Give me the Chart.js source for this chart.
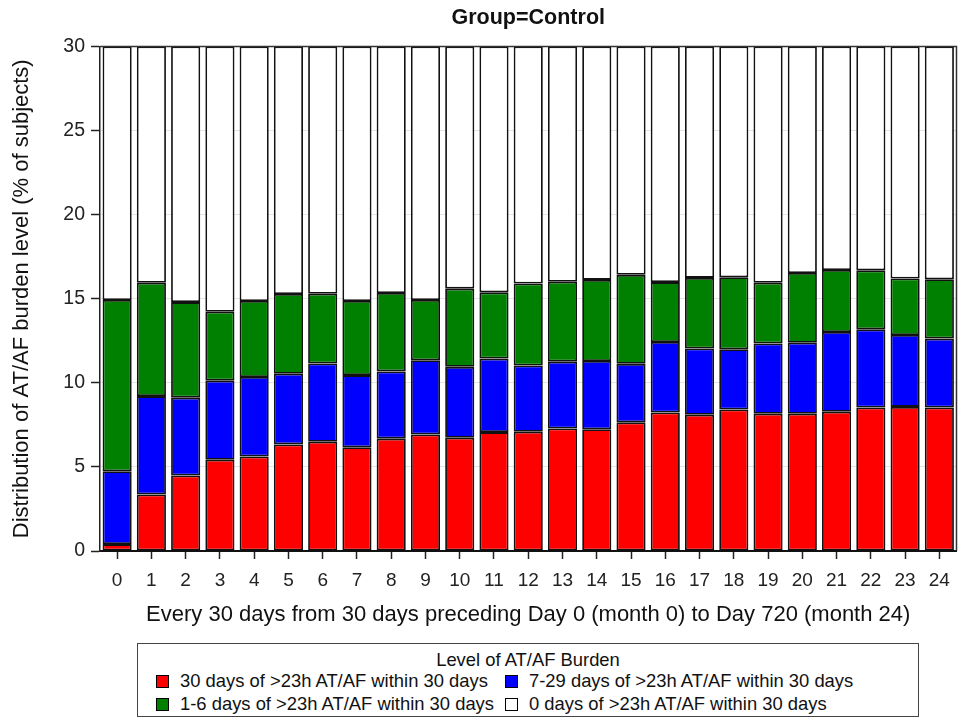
<!DOCTYPE html>
<html>
<head>
<meta charset="utf-8">
<script src="https://cdn.jsdelivr.net/npm/chart.js@4"></script>
<style>
  body { margin: 0; background: #fff; font-family: 'Liberation Sans', Arial, sans-serif; }
  .wrap { position: relative; width: 960px; height: 718px; }
  #chart { position: absolute; left: 0; top: 0; }
  .legend { position: absolute; left: 137px; top: 643px; width: 780px; height: 72px; border: 1px solid #444; color: #111; font-size: 18.4px; }
  .legend .ttl { position: absolute; left: 0; right: 0; top: 5px; text-align: center; }
  .legend .item { position: absolute; white-space: nowrap; line-height: 20px; }
  .legend .sw { display: inline-block; width: 11px; height: 11px; border: 1px solid #000; margin-right: 11px; vertical-align: -1px; }
</style>
</head>
<body>
<div class="wrap">
  <canvas id="chart" width="960" height="640"></canvas>
  <div class="legend" id="legend"><div class="ttl">Level of AT/AF Burden</div></div>
</div>
<script>
// month index (every 30 days)
let months = ['0','1','2','3','4','5','6','7','8','9','10','11','12','13','14','15','16','17','18','19','20','21','22','23','24'];

// % of subjects in each burden level
let days30 = [0.41, 3.36, 4.49, 5.43, 5.62, 6.34, 6.50, 6.17, 6.68, 6.93, 6.73, 7.07, 7.09, 7.28, 7.24, 7.65, 8.24, 8.10, 8.41, 8.16, 8.16, 8.28, 8.53, 8.57, 8.53];
let days7to29 = [4.33, 5.85, 4.63, 4.70, 4.73, 4.20, 4.65, 4.29, 4.00, 4.41, 4.22, 4.37, 3.94, 3.98, 4.06, 3.48, 4.19, 3.94, 3.59, 4.18, 4.22, 4.74, 4.65, 4.27, 4.10];
let days1to6 = [10.19, 6.74, 5.68, 4.10, 4.52, 4.74, 4.15, 4.41, 4.66, 3.59, 4.65, 3.94, 4.88, 4.75, 4.82, 5.29, 3.56, 4.20, 4.28, 3.61, 4.15, 3.69, 3.51, 3.36, 3.53];
let days0 = [15.07, 14.05, 15.20, 15.77, 15.13, 14.72, 14.70, 15.13, 14.66, 15.07, 14.40, 14.62, 14.09, 13.99, 13.88, 13.58, 14.01, 13.76, 13.72, 14.05, 13.47, 13.29, 13.31, 13.80, 13.84];

let yTicks = [0, 5, 10, 15, 20, 25, 30];

let font = "'Liberation Sans', Arial, sans-serif";

function bar(label, color, data) {
    return {
        label: label,
        data: data,
        backgroundColor: color,
        borderColor: '#111',
        borderWidth: 1.8,
        borderSkipped: false,
        barPercentage: 0.85,
        categoryPercentage: 1
    };
}

let burdenData = {
    labels: months,
    datasets: [
        bar('30 days of >23h AT/AF within 30 days', '#ff0000', days30),
        bar('7-29 days of >23h AT/AF within 30 days', '#0000ff', days7to29),
        bar('1-6 days of >23h AT/AF within 30 days', '#008000', days1to6),
        bar('0 days of >23h AT/AF within 30 days', '#ffffff', days0)
    ]
};

// top and right edge of the plot box
let frame = {
    id: 'frame',
    afterDatasetsDraw(chart) {
        let ctx = chart.ctx, a = chart.chartArea;
        ctx.save();
        ctx.strokeStyle = '#333';
        ctx.lineWidth = 1.5;
        ctx.beginPath();
        ctx.moveTo(a.left, a.top);
        ctx.lineTo(a.right, a.top);
        ctx.lineTo(a.right, a.bottom);
        ctx.stroke();
        ctx.restore();
    }
};

var ctx = document.getElementById('chart').getContext('2d');
var burdenChart = new Chart(ctx, {
    type: 'bar',
    data: burdenData,
    plugins: [frame],
    options: {
        responsive: false,
        animation: false,
        layout: { padding: { left: 0, right: 2, top: 0, bottom: 0 } },
        plugins: {
            legend: { display: false },
            tooltip: { enabled: false },
            title: {
                display: true,
                text: 'Group=Control',
                fullSize: false,
                color: '#111',
                font: { family: font, size: 21.5, weight: 'bold' },
                padding: { top: 5, bottom: 15.7 }
            }
        },
        scales: {
            x: {
                stacked: true,
                offset: true,
                afterFit: function (s) { s.height = 89; },
                grid: { offset: false, drawOnChartArea: false, tickColor: '#222', tickLength: 8, tickWidth: 1.5 },
                border: { color: '#111', width: 2 },
                ticks: { color: '#222', font: { family: font, size: 19 }, padding: 10, maxRotation: 0, autoSkip: false },
                title: {
                    display: true,
                    text: 'Every 30 days from 30 days preceding Day 0 (month 0) to Day 720 (month 24)',
                    color: '#111',
                    font: { family: font, size: 22 },
                    padding: { top: 4, bottom: 12 }
                }
            },
            y: {
                stacked: true,
                min: 0,
                max: 30,
                afterFit: function (s) { s.width = 100; },
                afterBuildTicks: function (s) { s.ticks = yTicks.map(function (v) { return { value: v }; }); },
                grid: { color: '#e4e4e4', tickColor: '#222', tickLength: 9, tickWidth: 1.5 },
                border: { color: '#222', width: 1.5 },
                ticks: { color: '#222', font: { family: font, size: 19.5 }, padding: 6 },
                title: {
                    display: true,
                    text: 'Distribution of AT/AF burden level (% of subjects)',
                    color: '#111',
                    font: { family: font, size: 22 },
                    padding: { top: 9, bottom: 4 }
                }
            }
        }
    }
});

// legend in two columns, like the original box
let legend = document.getElementById('legend');
let spots = [[18, 27], [367, 27], [18, 50], [367, 50]];
burdenChart.data.datasets.forEach(function (ds, i) {
    let item = document.createElement('div');
    item.className = 'item';
    item.style.left = spots[i][0] + 'px';
    item.style.top = spots[i][1] + 'px';
    let sw = document.createElement('span');
    sw.className = 'sw';
    sw.style.background = ds.backgroundColor;
    item.appendChild(sw);
    item.appendChild(document.createTextNode(ds.label));
    legend.appendChild(item);
});
</script>
</body>
</html>
